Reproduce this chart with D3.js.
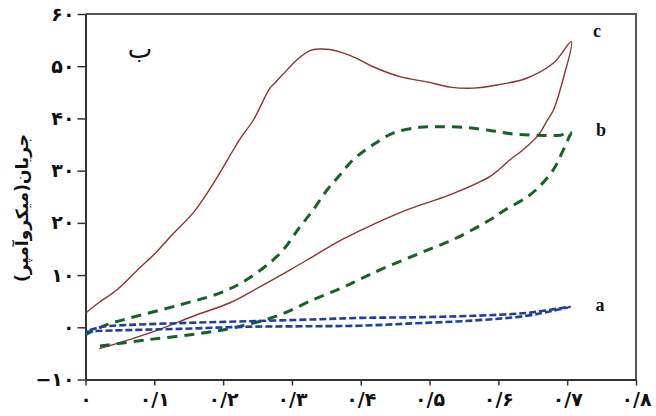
<!DOCTYPE html>
<html>
<head>
<meta charset="utf-8">
<script src="https://cdn.jsdelivr.net/npm/d3@7"></script>
<style>
  body { margin: 0; background: #fff; }
  .axis text { font-family: "DejaVu Sans", sans-serif; font-weight: bold; fill: #111; }
</style>
</head>
<body>
<div id="chart-area"></div>
<script>
// x: potential (V), y: current (µA)
var xTicks = [0, 0.1, 0.2, 0.3, 0.4, 0.5, 0.6, 0.7, 0.8];
var xTickLabels = ["۰", "۰/۱", "۰/۲", "۰/۳", "۰/۴", "۰/۵", "۰/۶", "۰/۷", "۰/۸"];
var yTicks = [-10, 0, 10, 20, 30, 40, 50, 60];
var yTickLabels = ["−۱۰", "۰", "۱۰", "۲۰", "۳۰", "۴۰", "۵۰", "۶۰"];

// curve a (blue dashed): forward then back
var curveA = [
    [0, -0.8], [0.041, -0.6], [0.137, -0.3], [0.234, 0.1], [0.331, 0.2], [0.399, 0.3],
    [0.467, 0.7], [0.564, 1.3], [0.641, 2.2], [0.68, 3.2], [0.704, 3.9],
    [0.641, 2.75], [0.564, 2.2], [0.467, 1.9], [0.399, 1.8], [0.331, 1.5],
    [0.234, 1.15], [0.137, 0.8], [0.041, 0.3], [0.02, 0], [0, -0.8]
];

// curve b (green dashed)
var curveB = [
    [0.021, -3.6], [0.089, -2.4], [0.166, -1.2], [0.225, 0.2], [0.283, 2.4], [0.331, 5.3],
    [0.37, 7.4], [0.399, 9.2], [0.428, 11], [0.486, 14.2], [0.539, 17.1], [0.588, 20.6],
    [0.61, 22.5], [0.641, 24.9], [0.66, 27], [0.68, 30.2], [0.692, 33.3], [0.702, 36.2],
    [0.705, 37.3],
    [0.69, 36.8], [0.656, 36.8], [0.622, 37.0], [0.588, 37.7], [0.55, 38.3], [0.515, 38.4],
    [0.486, 38.3], [0.447, 37.2], [0.414, 34.6], [0.389, 32.1], [0.37, 29.2], [0.351, 26.3],
    [0.331, 22.5], [0.312, 19.3], [0.283, 14.2], [0.234, 9.1], [0.196, 6.6], [0.137, 4.3],
    [0.065, 1.8], [0.031, 0.5], [0, -1.4]
];

// curve c (red solid)
var curveC = [
    [0.02, -4.1], [0.065, -2.3], [0.108, -0.4], [0.16, 2.3], [0.21, 4.7], [0.254, 7.8],
    [0.3, 11.2], [0.331, 13.6], [0.37, 16.6], [0.399, 18.5], [0.428, 20.3], [0.467, 22.5],
    [0.53, 25.4], [0.588, 28.9], [0.617, 32.1], [0.636, 34], [0.658, 36.8], [0.67, 39.4],
    [0.68, 41.6], [0.694, 47.5], [0.706, 54.7],
    [0.68, 50.6], [0.641, 47.7], [0.598, 46.4], [0.564, 45.8], [0.53, 46], [0.496, 47],
    [0.457, 48], [0.418, 49.9], [0.394, 51.5], [0.375, 52.5], [0.355, 53.2], [0.341, 53.3],
    [0.326, 53], [0.307, 51.2], [0.293, 49.3], [0.276, 46.9], [0.268, 45.8], [0.244, 39.7],
    [0.225, 36.2], [0.215, 34], [0.186, 27.6], [0.157, 22], [0.128, 18], [0.1, 14],
    [0.079, 11.4], [0.046, 7.2], [0.02, 4.8], [0, 2.7]
];

var width = 656, height = 416;

var svg = d3.select("#chart-area")
    .append("svg")
    .attr("width", width)
    .attr("height", height);

var x = d3.scaleLinear().domain([0, 0.8]).range([85.5, 636]);
var y = d3.scaleLinear().domain([-10, 60]).range([379.5, 14]);

// frame: top + right in grey
svg.append("path")
    .attr("d", "M" + x(0) + "," + y(60) + "H" + x(0.8) + "V" + y(-10))
    .attr("fill", "none")
    .attr("stroke", "#555")
    .attr("stroke-width", 2);

var xAxis = d3.axisBottom(x)
    .tickValues(xTicks)
    .tickSize(6)
    .tickSizeOuter(0)
    .tickPadding(7)
    .tickFormat(function (d, i) { return xTickLabels[i]; });

var yAxis = d3.axisLeft(y)
    .tickValues(yTicks)
    .tickSize(8)
    .tickSizeOuter(0)
    .tickPadding(3)
    .tickFormat(function (d, i) { return yTickLabels[i]; });

var gx = svg.append("g")
    .attr("class", "axis")
    .attr("transform", "translate(0," + y(-10) + ")")
    .call(xAxis);
gx.selectAll("text").attr("font-size", "19px").attr("fill", "#111");

var gy = svg.append("g")
    .attr("class", "axis")
    .attr("transform", "translate(" + x(0) + ",0)")
    .call(yAxis);
gy.selectAll("text").attr("font-size", "19px").attr("fill", "#111");

svg.selectAll(".axis .domain").attr("stroke", "#333").attr("stroke-width", 2);
svg.selectAll(".axis .tick line").attr("stroke", "#333").attr("stroke-width", 1.5);

var line = d3.line()
    .x(function (d) { return x(d[0]); })
    .y(function (d) { return y(d[1]); })
    .curve(d3.curveCatmullRom.alpha(0.5));

svg.append("path")
    .datum(curveC)
    .attr("d", line)
    .attr("fill", "none")
    .attr("stroke", "#8a3434")
    .attr("stroke-width", 1.4);

svg.append("path")
    .datum(curveB)
    .attr("d", line)
    .attr("fill", "none")
    .attr("stroke", "#16602a")
    .attr("stroke-width", 3)
    .attr("stroke-dasharray", "10,7");

svg.append("path")
    .datum(curveA)
    .attr("d", line)
    .attr("fill", "none")
    .attr("stroke", "#1f3f9a")
    .attr("stroke-width", 2.6)
    .attr("stroke-dasharray", "7,3");

// series letters
var letters = [["c", 597, 37], ["b", 601, 136], ["a", 600, 311]];
svg.selectAll(".letter")
    .data(letters)
    .enter()
    .append("text")
    .attr("class", "letter")
    .attr("x", function (d) { return d[1]; })
    .attr("y", function (d) { return d[2]; })
    .attr("text-anchor", "middle")
    .attr("font-family", "Liberation Serif, serif")
    .attr("font-weight", "bold")
    .attr("font-size", "18px")
    .attr("fill", "#111")
    .text(function (d) { return d[0]; });

// panel letter
svg.append("text")
    .attr("x", 140)
    .attr("y", 58)
    .attr("text-anchor", "middle")
    .attr("font-family", "DejaVu Sans, sans-serif")
    .attr("font-size", "26px")
    .attr("fill", "#111")
    .text("ب");

// Y label
svg.append("text")
    .attr("x", -208)
    .attr("y", 28)
    .attr("transform", "rotate(-90)")
    .attr("text-anchor", "middle")
    .attr("font-family", "DejaVu Sans, sans-serif")
    .attr("font-weight", "bold")
    .attr("font-size", "17px")
    .attr("fill", "#111")
    .text("جریان(میکروآمپر)");
</script>
</body>
</html>
